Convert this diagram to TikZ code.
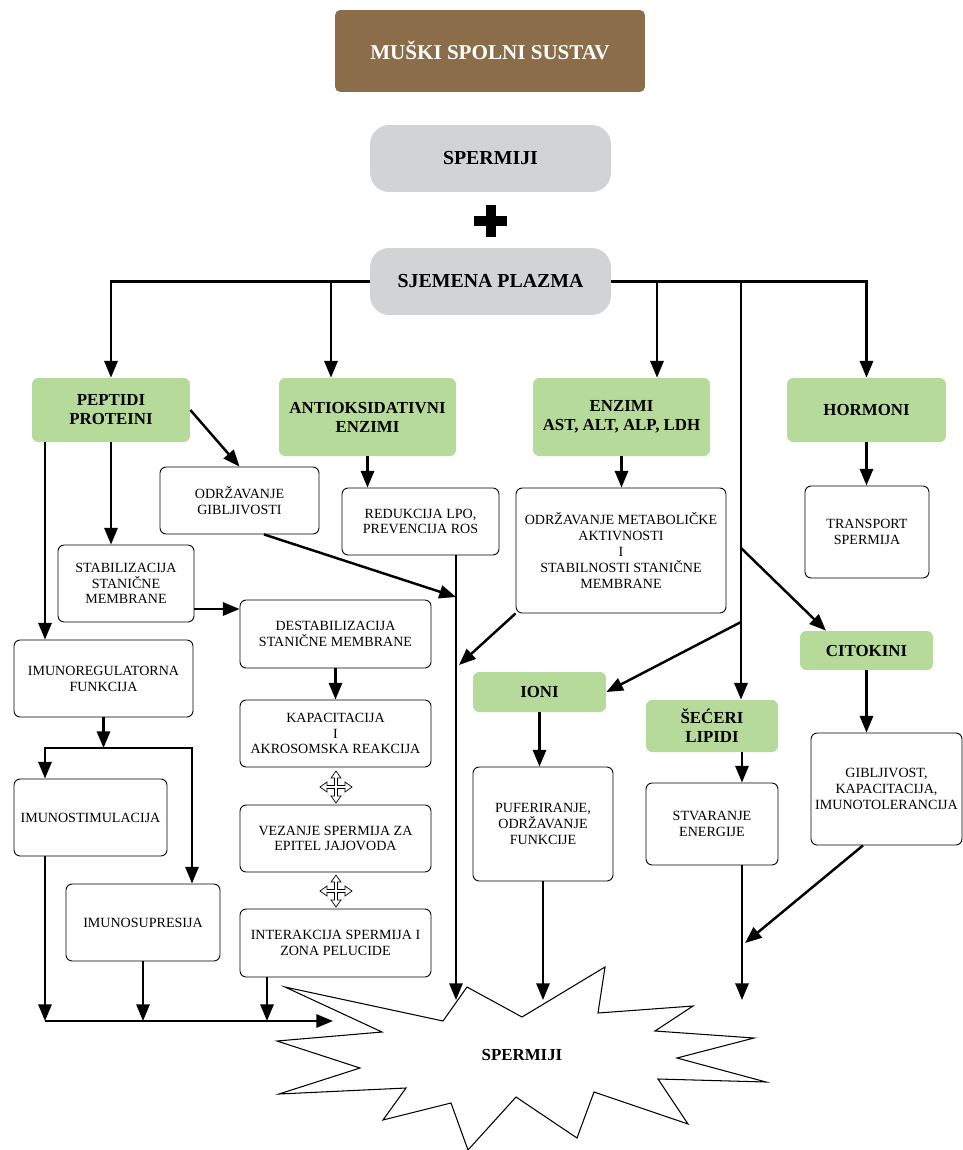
\documentclass[tikz,border=0pt]{standalone}
\usepackage{fontspec}
\setmainfont{Liberation Serif}
\usetikzlibrary{arrows.meta}

\definecolor{smeda}{HTML}{8B6D4A}
\definecolor{siva}{HTML}{D1D3D4}
\definecolor{zelena}{HTML}{B6DA9A}

\tikzset{
    naslov/.style={fill=smeda, text=white, font=\fontsize{12}{14}\selectfont\bfseries,
        rounded corners=3pt, minimum width=6.2cm, minimum height=1.64cm},
    sivo/.style={fill=siva, font=\fontsize{11.3}{13}\selectfont\bfseries,
        rounded corners=11pt, minimum width=4.82cm, minimum height=1.34cm},
    zeleno/.style={fill=zelena, font=\fontsize{9.6}{10.8}\selectfont\bfseries,
        rounded corners=3.5pt, align=center, inner sep=1pt},
    okvir/.style={draw, line width=0.5pt, fill=white, font=\fontsize{8}{9}\selectfont,
        rounded corners=3.5pt, align=center, inner sep=1pt},
    strelica/.style={-{Triangle[length=9.5pt,width=7.5pt]}, line width=1.4pt},
    cetiri/.pic={
        \draw[fill=white, line width=0.4pt] (0,-16) -- (5,-9) -- (1.5,-9) -- (1.5,-1.5)
            -- (9,-1.5) -- (9,-5) -- (16,0) -- (9,5) -- (9,1.5) -- (1.5,1.5) -- (1.5,9)
            -- (5,9) -- (0,16) -- (-5,9) -- (-1.5,9) -- (-1.5,1.5) -- (-9,1.5) -- (-9,5)
            -- (-16,0) -- (-9,-5) -- (-9,-1.5) -- (-1.5,-1.5) -- (-1.5,-9) -- (-5,-9) -- cycle;
    }
}

\begin{document}
\begin{tikzpicture}[x=0.02cm, y=-0.02cm]
    \useasboundingbox (0,0) rectangle (963,1150);

    % vrh
    \node[naslov] (naslov) at (490,51) {MUŠKI SPOLNI SUSTAV};
    \node[sivo] (sperm) at (490.5,158.5) {SPERMIJI};
    \fill (474,216) rectangle (507,226);
    \fill (485.5,205) rectangle (495.5,237);
    \node[sivo] (plazma) at (490.5,281.5) {SJEMENA PLAZMA};

    % sastojci
    \node[zeleno, minimum width=3.16cm, minimum height=1.28cm] (pept) at (111,410) {PEPTIDI\\PROTEINI};
    \node[zeleno, minimum width=3.54cm, minimum height=1.56cm] (antiok) at (367.5,417) {ANTIOKSIDATIVNI\\ENZIMI};
    \node[zeleno, minimum width=3.54cm, minimum height=1.56cm] (enz) at (621.5,417) {ENZIMI\\AST, ALT, ALP, LDH};
    \node[zeleno, minimum width=3.18cm, minimum height=1.28cm] (horm) at (866.5,410) {HORMONI};
    \node[zeleno, minimum width=2.66cm, minimum height=0.78cm] (citok) at (866.5,650.5) {CITOKINI};
    \node[zeleno, minimum width=2.66cm, minimum height=0.8cm] (ioni) at (539.5,692) {IONI};
    \node[zeleno, minimum width=2.64cm, minimum height=1.04cm] (secer) at (712,726) {ŠEĆERI\\LIPIDI};

    % funkcije
    \node[okvir, minimum width=3.18cm, minimum height=1.34cm] (odrz) at (239.5,500.5) {ODRŽAVANJE\\GIBLJIVOSTI};
    \node[okvir, minimum width=3.14cm, minimum height=1.34cm] (redu) at (420.5,521.5) {REDUKCIJA LPO,\\PREVENCIJA ROS};
    \node[okvir, minimum width=4.2cm, minimum height=2.5cm] (metab) at (621,550.5) {ODRŽAVANJE METABOLIČKE\\AKTIVNOSTI\\I\\STABILNOSTI STANIČNE\\MEMBRANE};
    \node[okvir, minimum width=2.48cm, minimum height=1.84cm] (transp) at (867,532) {TRANSPORT\\SPERMIJA};
    \node[okvir, minimum width=2.72cm, minimum height=1.54cm] (stab) at (126,583.5) {STABILIZACIJA\\STANIČNE\\MEMBRANE};
    \node[okvir, minimum width=3.82cm, minimum height=1.36cm] (destab) at (335.5,634) {DESTABILIZACIJA\\STANIČNE MEMBRANE};
    \node[okvir, minimum width=3.58cm, minimum height=1.54cm] (imreg) at (103.5,678.5) {IMUNOREGULATORNA\\FUNKCIJA};
    \node[okvir, minimum width=3.82cm, minimum height=1.34cm] (kapac) at (335.5,733.5) {KAPACITACIJA\\I\\AKROSOMSKA REAKCIJA};
    \node[okvir, minimum width=3.82cm, minimum height=1.34cm] (vez) at (335.5,838.5) {VEZANJE SPERMIJA ZA\\EPITEL JAJOVODA};
    \node[okvir, minimum width=3.82cm, minimum height=1.36cm] (inter) at (335.5,943) {INTERAKCIJA SPERMIJA I\\ZONA PELUCIDE};
    \node[okvir, minimum width=3.06cm, minimum height=1.54cm] (imstim) at (90.5,817.5) {IMUNOSTIMULACIJA};
    \node[okvir, minimum width=3.08cm, minimum height=1.54cm] (imsup) at (143,922.5) {IMUNOSUPRESIJA};
    \node[okvir, minimum width=2.8cm, minimum height=2.28cm] (pufer) at (543,824) {PUFERIRANJE,\\ODRŽAVANJE\\FUNKCIJE};
    \node[okvir, minimum width=2.64cm, minimum height=1.64cm] (stvar) at (712,824) {STVARANJE\\ENERGIJE};
    \node[okvir, minimum width=3.02cm, minimum height=2.24cm] (gibl) at (886.5,789) {GIBLJIVOST,\\KAPACITACIJA,\\IMUNOTOLERANCIJA};

    \foreach \y in {787,891}
        \pic at (336,\y) {cetiri};

    % zvijezda
    \draw[line width=0.6pt, fill=white] (285,987) -- (443,1021) -- (467,987) -- (522,1017)
        -- (605,967) -- (598,1013) -- (693,1006) -- (655,1031) -- (754,1038) -- (677,1058)
        -- (766,1082) -- (658,1079) -- (688,1124) -- (594,1092) -- (577,1138) -- (516,1097)
        -- (468,1150) -- (451,1103) -- (383,1120) -- (406,1088) -- (279,1094) -- (360,1068)
        -- (277,1041) -- (382,1032) -- cycle;
    \node[font=\fontsize{9.6}{11}\selectfont\bfseries] (zvijezda) at (522,1055) {SPERMIJI};

    % strelice iz plazme
    \draw[strelica] (plazma.west) -| (pept.north);
    \draw[strelica] (331,0 |- plazma.west) -- (331,0 |- antiok.north);
    \draw[strelica] (plazma.east) -| (horm.north);
    \draw[strelica] (657,0 |- plazma.east) -- (657,0 |- enz.north);
    \draw[strelica] (741,0 |- plazma.east) -- (741,0 |- secer.north);
    \coordinate (grana1) at (741,548);
    \coordinate (grana2) at (741,622);
    \draw[strelica] (grana1) -- (826,0 |- citok.north);
    \draw[strelica] (grana2) -- (ioni.east);

    % lijevo
    \draw[strelica] (pept.east) -- (odrz.north);
    \draw[strelica] (pept.south) -- (pept.south |- stab.north);
    \draw[strelica] (45,0 |- pept.south) -- (45,0 |- imreg.north);
    \draw[strelica] (stab.east |- 0,609) -- (destab.west |- 0,609);
    \draw[strelica] (destab.south) -- (destab.south |- kapac.north);
    \coordinate (razd) at (103,748);
    \draw[strelica] (imreg.south) -- (imreg.south |- razd);
    \draw[strelica] (razd) -| (45,0 |- imstim.north);
    \draw[strelica] (razd) -| (192,0 |- imsup.north);
    \coordinate (dno) at (333,1021);
    \draw[strelica] (45,0 |- imstim.south) -- (45,0 |- dno);
    \draw[strelica] (imsup.south) -- (imsup.south |- dno);
    \draw[strelica] (267,0 |- inter.south) -- (267,0 |- dno);
    \draw[strelica] (45,0 |- dno) -- (dno);

    % sredina i desno
    \draw[strelica] (antiok.south) -- (antiok.south |- redu.north);
    \draw[strelica] (456,0 |- redu.south) -- (456,1000);
    \draw[strelica] (264,0 |- odrz.south) -- (456,597);
    \draw[strelica] (enz.south) -- (enz.south |- metab.north);
    \draw[strelica] (metab.south west) -- (459,665);
    \draw[strelica] (horm.south) -- (horm.south |- transp.north);
    \draw[strelica] (ioni.south) -- (ioni.south |- pufer.north);
    \draw[strelica] (pufer.south) -- (543,1000);
    \draw[strelica] (742,0 |- secer.south) -- (742,0 |- stvar.north);
    \draw[strelica] (742,0 |- stvar.south) -- (742,1000);
    \draw[strelica] (citok.south) -- (citok.south |- gibl.north);
    \draw[strelica] (863,0 |- gibl.south) -- (745,943);
\end{tikzpicture}
\end{document}
